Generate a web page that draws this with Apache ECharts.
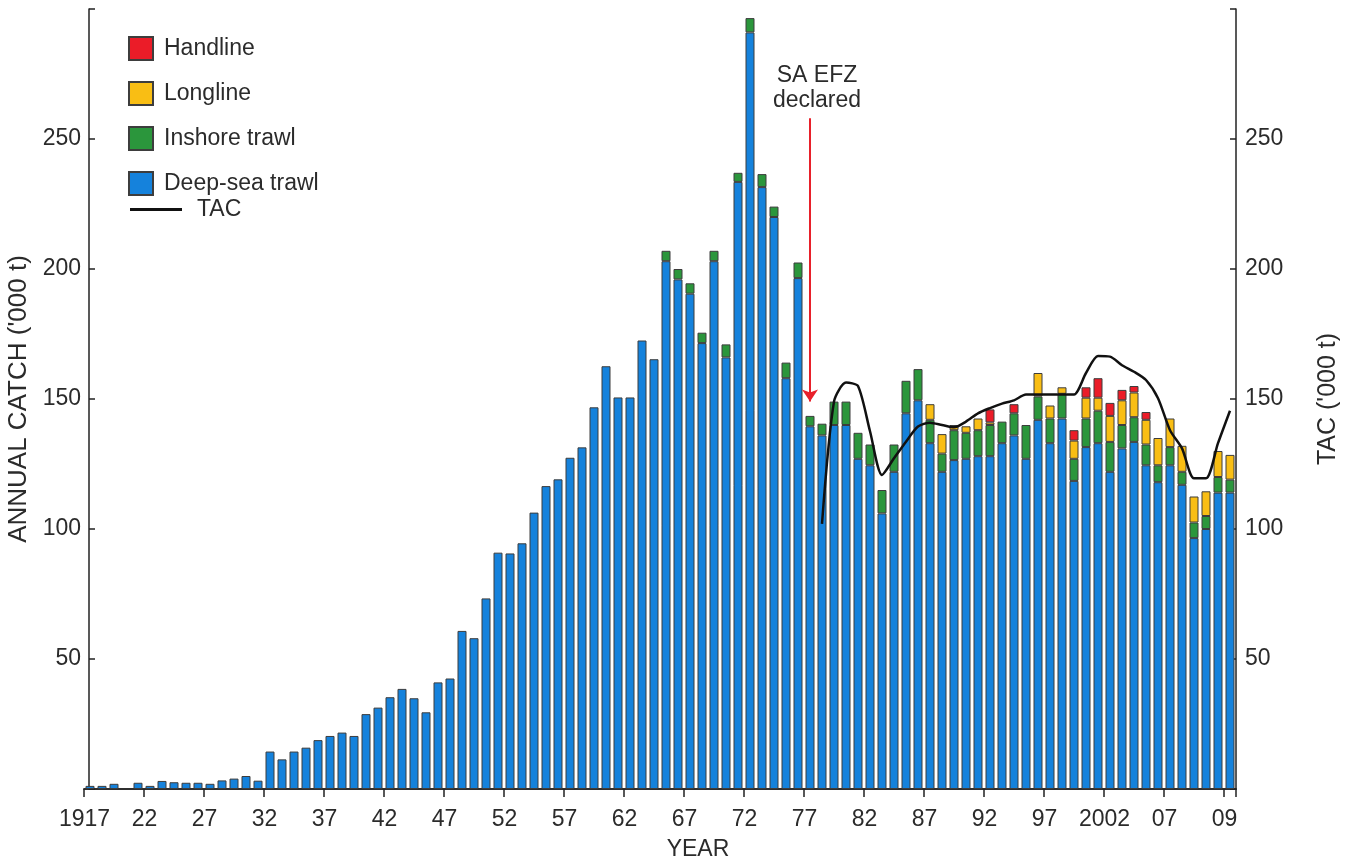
<!DOCTYPE html>
<html>
<head>
<meta charset="utf-8">
<script src="https://cdn.jsdelivr.net/npm/echarts@6/dist/echarts.min.js"></script>
<style>
html,body{margin:0;padding:0;background:#ffffff;}
#chart{width:1346px;height:858px;}
</style>
</head>
<body>
<div id="chart"></div>
<script>
// ---- categories (one per bar) ----
const firstYear = 1917;
const lastYear = 2012;
const years = [];
for (let y = firstYear; y <= lastYear; y++) years.push(String(y));

// tick labels shown every 5th bar (as printed on the original)
const tickLabels = ['1917','22','27','32','37','42','47','52','57','62','67','72','77','82','87','92','97','2002','07','09'];

// ---- series values ('000 t) ----
const deepSeaTrawl = [
  1.2, 1.2, 2, 0, 2.4, 1.2, 3.1, 2.6, 2.4, 2.4,            // 1917-1926
  2, 3.3, 4, 5, 3.2, 14.4, 11.4, 14.4, 15.9, 18.8,          // 1927-1936
  20.4, 21.7, 20.4, 28.8, 31.3, 35.3, 38.5, 34.9, 29.5, 41, // 1937-1946
  42.5, 60.8, 58, 73.3, 90.9, 90.6, 94.5, 106.3, 116.5, 119.1, // 1947-1956
  127.4, 131.4, 146.8, 162.6, 150.6, 150.6, 172.5, 165.3, 203, 196, // 1957-1966
  190.5, 171.5, 203, 166, 233.5, 291, 231.5, 220, 158, 196.5, // 1967-1976
  139.5, 136, 140, 140, 127, 124.5, 106, 122, 144.5, 149.5, // 1977-1986
  133, 122, 126.5, 127, 128, 128, 133, 136, 127, 142,       // 1987-1996
  133, 142.5, 118.5, 131.5, 133, 122, 131, 133.5, 124.5, 118, // 1997-2006
  124.5, 117, 96.5, 100, 114, 114                           // 2007-2012
];
const inshoreTrawl = [
  0, 0, 0, 0, 0, 0, 0, 0, 0, 0,
  0, 0, 0, 0, 0, 0, 0, 0, 0, 0,
  0, 0, 0, 0, 0, 0, 0, 0, 0, 0,
  0, 0, 0, 0, 0, 0, 0, 0, 0, 0,
  0, 0, 0, 0, 0, 0, 0, 0, 4, 4,
  4, 4, 4, 5, 3.5, 5.5, 5, 4, 6, 6,
  4, 4.5, 9, 9, 10, 8, 9, 10.5, 12.5, 12,
  9, 7, 11.5, 10, 10, 12, 8.3, 8.5, 13, 9,
  9.5, 9.5, 8.5, 11, 12.5, 11.5, 9, 9.5, 8, 6.5,
  7, 5, 6, 5, 6, 5
];
const longline = [
  0, 0, 0, 0, 0, 0, 0, 0, 0, 0,
  0, 0, 0, 0, 0, 0, 0, 0, 0, 0,
  0, 0, 0, 0, 0, 0, 0, 0, 0, 0,
  0, 0, 0, 0, 0, 0, 0, 0, 0, 0,
  0, 0, 0, 0, 0, 0, 0, 0, 0, 0,
  0, 0, 0, 0, 0, 0, 0, 0, 0, 0,
  0, 0, 0, 0, 0, 0, 0, 0, 0, 0,
  6, 7.5, 2, 2.5, 4.5, 1, 0, 0, 0, 9,
  5, 2.5, 7, 8, 5, 10, 9.5, 9.5, 9.5, 10.5,
  11, 10, 10, 9.5, 10, 9.5
];
const handline = [
  0, 0, 0, 0, 0, 0, 0, 0, 0, 0,
  0, 0, 0, 0, 0, 0, 0, 0, 0, 0,
  0, 0, 0, 0, 0, 0, 0, 0, 0, 0,
  0, 0, 0, 0, 0, 0, 0, 0, 0, 0,
  0, 0, 0, 0, 0, 0, 0, 0, 0, 0,
  0, 0, 0, 0, 0, 0, 0, 0, 0, 0,
  0, 0, 0, 0, 0, 0, 0, 0, 0, 0,
  0, 0, 0, 0, 0, 5, 0, 3.5, 0, 0,
  0, 0, 4, 4, 7.5, 5, 4, 2.5, 3, 0,
  0, 0, 0, 0, 0, 0
];
// Total allowable catch, from 1978
const tac = [
  null, null, null, null, null, null, null, null, null, null,
  null, null, null, null, null, null, null, null, null, null,
  null, null, null, null, null, null, null, null, null, null,
  null, null, null, null, null, null, null, null, null, null,
  null, null, null, null, null, null, null, null, null, null,
  null, null, null, null, null, null, null, null, null, null,
  null, 102, 149, 156.3, 155, 137.6, 120.8, 127.2, 133.6, 139.4,
  140.9, 140, 139.1, 141.3, 144.5, 146.5, 148.2, 149.5, 151.7, 151.7,
  151.7, 151.7, 151.7, 160, 166.5, 166.3, 163, 160.5, 157.3, 150.3,
  138, 131, 119.5, 119.5, 133, 145.5
];

// annotation: SA EFZ declared
const efzYear = '1977';
const efzArrowFrom = 258;
const efzArrowTo = 149;

const colors = {
  handline: '#EB1C28',
  longline: '#F9BE14',
  inshore: '#2B963C',
  deepsea: '#1582DC'
};
const nz = a => a.map(v => (v ? v : null));
const FONT = '"Liberation Sans", Arial, Helvetica, sans-serif';
const TXT = '#2b2b2b';

const barBase = (name, data, color) => ({
  name: name,
  type: 'bar',
  stack: 'catch',
  data: nz(data),
  barWidth: 9,
  itemStyle: { color: color, borderColor: '#3d3d3d', borderWidth: 1 },
  emphasis: { disabled: true }
});

const deepSeries = barBase('Deep-sea trawl', deepSeaTrawl, colors.deepsea);
deepSeries.markLine = {
  silent: true,
  symbol: ['none', 'arrow'],
  symbolSize: 12,
  lineStyle: { color: '#E8202A', width: 2, type: 'solid' },
  label: {
    show: true,
    position: 'start',
    formatter: 'SA EFZ\ndeclared',
    fontFamily: FONT,
    fontSize: 23,
    lineHeight: 25,
    color: TXT,
    distance: 5,
    offset: [7, 0]
  },
  data: [[{ coord: [efzYear, efzArrowFrom] }, { coord: [efzYear, efzArrowTo] }]]
};

const chart = echarts.init(document.getElementById('chart'));
chart.setOption({
  animation: false,
  backgroundColor: '#ffffff',
  textStyle: { fontFamily: FONT },
  grid: { left: 84, right: 110, top: 9, bottom: 69, containLabel: false, outerBoundsMode: 'none' },
  legend: [
    {
      data: ['Handline', 'Longline', 'Inshore trawl', 'Deep-sea trawl'],
      orient: 'vertical',
      left: 128,
      top: 36,
      icon: 'rect',
      itemWidth: 24,
      itemHeight: 23,
      itemGap: 20,
      padding: 0,
      selectedMode: false,
      textStyle: { fontSize: 23, lineHeight: 23, color: TXT, fontFamily: FONT, padding: [0, 0, 0, 6] }
    },
    {
      data: [{ name: 'TAC', icon: 'rect', itemStyle: { color: '#111' } }],
      orient: 'vertical',
      left: 130,
      top: 198,
      itemWidth: 52,
      itemHeight: 3,
      padding: 0,
      selectedMode: false,
      textStyle: { fontSize: 23, lineHeight: 23, color: TXT, fontFamily: FONT, padding: [0, 0, 0, 10] }
    }
  ],
  xAxis: [
    {
      type: 'category',
      data: years,
      boundaryGap: true,
      name: 'YEAR',
      nameLocation: 'middle',
      nameGap: 49,
      nameTextStyle: { fontSize: 23, color: TXT, fontFamily: FONT, padding: [0, 0, 0, 76] },
      axisLine: { show: true, lineStyle: { color: '#222', width: 1.5 } },
      axisTick: {
        show: true,
        alignWithLabel: false,
        interval: (i) => i % 5 === 0,
        length: 8,
        lineStyle: { color: '#222', width: 1.5 }
      },
      axisLabel: {
        interval: (i) => i % 5 === 0,
        formatter: (v, i) => tickLabels[Math.round(i / 5)],
        fontSize: 23,
        color: TXT,
        fontFamily: FONT,
        margin: 19,
        padding: [0, 11, 0, 0]
      },
      splitLine: { show: false }
    },
    {
      type: 'category',
      data: years,
      position: 'top',
      axisLine: { show: true, lineStyle: { color: '#222', width: 1.5 } },
      axisTick: { show: false },
      axisLabel: { show: false },
      splitLine: { show: false }
    }
  ],
  yAxis: [
    {
      type: 'value',
      min: 0,
      max: 300,
      interval: 50,
      position: 'left',
      offset: -5,
      name: "ANNUAL CATCH ('000 t)",
      nameLocation: 'middle',
      nameRotate: 90,
      nameGap: 56,
      nameTextStyle: { fontSize: 26, color: TXT, fontFamily: FONT },
      axisLine: { show: true, lineStyle: { color: '#222', width: 1.5 } },
      axisTick: { show: true, inside: true, length: 6, lineStyle: { color: '#222', width: 1.5 } },
      axisLabel: {
        fontSize: 23, color: TXT, fontFamily: FONT, margin: 8,
        formatter: (v) => (v === 0 || v === 300 ? '' : String(v))
      },
      splitLine: { show: false }
    },
    {
      type: 'value',
      min: 0,
      max: 300,
      interval: 50,
      position: 'right',
      name: "TAC ('000 t)",
      nameLocation: 'middle',
      nameRotate: 90,
      nameGap: 80,
      nameTextStyle: { fontSize: 25, color: TXT, fontFamily: FONT },
      axisLine: { show: true, lineStyle: { color: '#222', width: 1.5 } },
      axisTick: { show: true, inside: true, length: 6, lineStyle: { color: '#222', width: 1.5 } },
      axisLabel: {
        fontSize: 23, color: TXT, fontFamily: FONT, margin: 9,
        formatter: (v) => (v === 0 || v === 300 ? '' : String(v))
      },
      splitLine: { show: false }
    }
  ],
  series: [
    deepSeries,
    barBase('Inshore trawl', inshoreTrawl, colors.inshore),
    barBase('Longline', longline, colors.longline),
    barBase('Handline', handline, colors.handline),
    {
      name: 'TAC',
      type: 'line',
      yAxisIndex: 1,
      data: tac,
      symbol: 'none',
      smooth: 0.25,
      connectNulls: false,
      lineStyle: { color: '#111', width: 2.5 },
      itemStyle: { color: '#111' },
      emphasis: { disabled: true },
      z: 5
    }
  ]
});
</script>
</body>
</html>
